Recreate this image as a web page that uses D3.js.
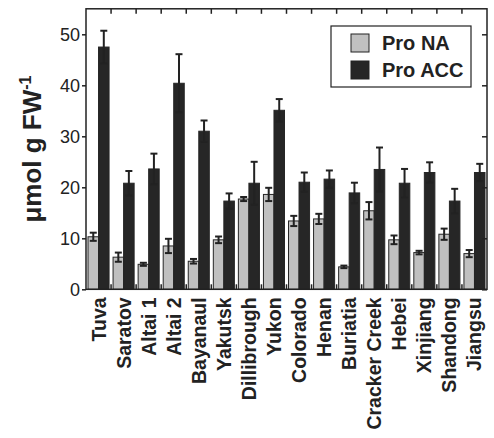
<!DOCTYPE html>
<html><head><meta charset="utf-8">
<script src="https://cdn.jsdelivr.net/npm/d3@7"></script>
<style>body{margin:0;background:#fff}svg{display:block}</style>
</head><body>
<svg id="c" width="494" height="438"></svg>
<script>
const categories = ["Tuva","Saratov","Altai 1","Altai 2","Bayanaul","Yakutsk","Dillibrough","Yukon","Colorado","Henan","Buriatia","Cracker Creek","Hebei","Xinjiang","Shandong","Jiangsu"];
const proNA     = [10.3, 6.3, 4.9, 8.5, 5.5, 9.7, 17.7, 18.6, 13.4, 13.8, 4.4, 15.4, 9.7, 7.2, 10.8, 7.0];
const proNAErr  = [0.8, 0.9, 0.3, 1.4, 0.45, 0.65, 0.4, 1.3, 1.0, 1.0, 0.25, 1.7, 0.85, 0.35, 1.1, 0.7];
const proACC    = [47.5, 20.8, 23.6, 40.4, 31.0, 17.3, 20.8, 35.1, 21.0, 21.6, 18.9, 23.5, 20.8, 22.9, 17.3, 22.9];
const proACCErr = [3.2, 2.4, 3.0, 5.7, 2.1, 1.5, 4.2, 2.2, 1.9, 1.7, 2.0, 4.3, 2.8, 2.0, 2.4, 1.7];
const seriesNames = ["Pro NA", "Pro ACC"];
const yTicks = [0, 10, 20, 30, 40, 50];

const svg = d3.select("#c");
const L = 86, R = 487, T = 8.8, B = 289.3;
const x = d3.scaleBand().domain(categories).range([L, R]).padding(0);
const xs = d3.scaleBand().domain(seriesNames).range([2, x.bandwidth() - 2]).padding(0);
const y = d3.scaleLinear().domain([0, 55]).range([B, T]);
const colors = {"Pro NA": "#c0c0c0", "Pro ACC": "#262626"};
const font = "'Liberation Sans', Arial, sans-serif";

const data = categories.map((c, i) => ({c, vals: [
  {s: "Pro NA", v: proNA[i], e: proNAErr[i]},
  {s: "Pro ACC", v: proACC[i], e: proACCErr[i]}]}));

const g = svg.append("g");
const cat = g.selectAll("g.cat").data(data).join("g").attr("transform", d => `translate(${x(d.c)},0)`);
cat.selectAll("rect").data(d => d.vals).join("rect")
  .attr("x", d => xs(d.s)).attr("width", xs.bandwidth())
  .attr("y", d => y(d.v)).attr("height", d => y(0) - y(d.v))
  .attr("fill", d => colors[d.s]).attr("stroke", "#262626").attr("stroke-width", 1);
// error bars
cat.selectAll("g.err").data(d => d.vals).join("g").each(function(d) {
  const gg = d3.select(this);
  const cx = xs(d.s) + xs.bandwidth() / 2;
  gg.append("line").attr("x1", cx).attr("x2", cx).attr("y1", y(d.v - d.e)).attr("y2", y(d.v + d.e))
    .attr("stroke", "#222").attr("stroke-width", 2);
  [d.v - d.e, d.v + d.e].forEach(v => gg.append("line").attr("x1", cx - 3.5).attr("x2", cx + 3.5)
    .attr("y1", y(v)).attr("y2", y(v)).attr("stroke", "#222").attr("stroke-width", 2));
});

// left axis
const yAxis = d3.axisLeft(y).tickValues(yTicks).tickSize(4).tickPadding(2);
const ya = svg.append("g").attr("transform", `translate(${L},0)`).call(yAxis);
ya.select(".domain").remove();
ya.selectAll("line").attr("stroke", "#222").attr("stroke-width", 1.5);
ya.selectAll("text").attr("font-family", font).attr("font-size", 18).attr("fill", "#222");
// right axis inner ticks
const yr = svg.append("g").attr("transform", `translate(${R},0)`).call(d3.axisLeft(y).tickValues(yTicks).tickSize(5).tickFormat(""));
yr.select(".domain").remove();
yr.selectAll("line").attr("stroke", "#222").attr("stroke-width", 1.5);
// bottom & top ticks at category boundaries
const bounds = categories.map(c => x(c)).slice(1);
svg.append("g").selectAll("line").data(bounds).join("line")
  .attr("x1", d => d).attr("x2", d => d).attr("y1", B).attr("y2", B - 5).attr("stroke", "#222").attr("stroke-width", 1.5);
svg.append("g").selectAll("line").data(bounds).join("line")
  .attr("x1", d => d).attr("x2", d => d).attr("y1", T).attr("y2", T + 5).attr("stroke", "#222").attr("stroke-width", 1.5);
// frame
svg.append("rect").attr("x", L).attr("y", T).attr("width", R - L).attr("height", B - T)
  .attr("fill", "none").attr("stroke", "#222").attr("stroke-width", 1.5);

// x labels
const xa = svg.append("g").attr("transform", `translate(0,${B})`).call(d3.axisBottom(x).tickSize(0).tickPadding(0));
xa.select(".domain").remove();
xa.selectAll("text").attr("font-family", font).attr("font-size", 19.5).attr("font-weight", "bold").attr("fill", "#222")
  .attr("text-anchor", "end").attr("dy", null)
  .attr("transform", "translate(7,8) rotate(-90)").attr("x", 0).attr("y", 0);

// y label
const yl = svg.append("text").attr("transform", `translate(41,${(T + B) / 2}) rotate(-90)`)
  .attr("text-anchor", "middle").attr("font-family", font).attr("font-weight", "bold").attr("font-size", 26).attr("fill", "#222");
yl.append("tspan").text("μmol g FW");
yl.append("tspan").attr("dy", -10).attr("font-size", 16).text("-1");

// legend
const lg = svg.append("g");
lg.append("rect").attr("x", 331).attr("y", 26).attr("width", 140).attr("height", 61)
  .attr("fill", "#fff").attr("stroke", "#222").attr("stroke-width", 1.2);
seriesNames.forEach((s, i) => {
  lg.append("rect").attr("x", 351).attr("y", 34 + i * 27).attr("width", 18).attr("height", 18)
    .attr("fill", colors[s]).attr("stroke", "#222").attr("stroke-width", 1);
  lg.append("text").attr("x", 382).attr("y", 50 + i * 27).attr("font-family", font).attr("font-weight", "bold")
    .attr("font-size", 20).attr("fill", "#222").text(s);
});
</script>
</body></html>
